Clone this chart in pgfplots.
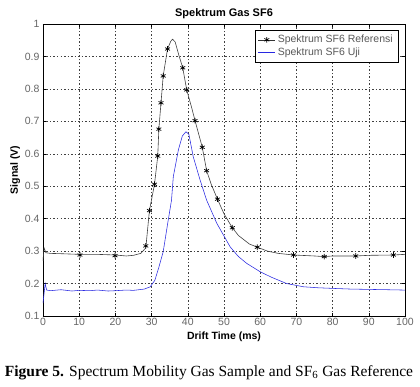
\documentclass[border=0pt]{standalone}
\usepackage{pgfplots}
\pgfplotsset{compat=1.18}
\usepackage{fontspec}
\setmainfont{Liberation Sans}
\newfontfamily\capfont{Liberation Serif}
\definecolor{uji}{RGB}{40,40,225}
\begin{document}
\begin{tikzpicture}[x=1pt,y=1pt]
\path[use as bounding box] (-43,-71) rectangle (377,316);
\begin{axis}[
  at={(0,0)}, anchor=south west,
  scale only axis, width=362pt, height=292pt,
  xmin=0, xmax=100, ymin=0.1, ymax=1,
  xtick={0,10,...,100},
  ytick={0.1,0.2,0.3,0.4,0.5,0.6,0.7,0.8,0.9,1},
  yticklabels={0.1,0.2,0.3,0.4,0.5,0.6,0.7,0.8,0.9,1},
  tick align=inside,
  major tick length=3pt,
  tick style={black, thin},
  grid=major,
  major grid style={black!75, dash pattern=on 1.5pt off 2pt, line width=0.5pt},
  axis line style={black, line width=0.7pt},
  tick label style={font=\fontsize{10.5}{12}\selectfont, text=black!60},
  xticklabel style={yshift=1pt},
  /pgf/number format/assume math mode=true,
  title={\bfseries Spektrum Gas SF6},
  title style={font=\fontsize{11}{13}\selectfont, yshift=-4pt},
  xlabel={\bfseries Drift Time (ms)},
  ylabel={\bfseries Signal (V)},
  label style={font=\fontsize{10.5}{12}\selectfont},
  xlabel style={yshift=1pt},
  ylabel style={yshift=-2pt},
  legend style={at={(rel axis cs:1,1)}, anchor=north east, xshift=-7pt, yshift=-6pt,
    font=\fontsize{10.5}{13.5}\selectfont, draw=black, line width=0.5pt, inner sep=3pt,
    cells={anchor=west}, text=black!65},
  legend cell align=left,
]
\addlegendimage{black!80, line width=0.6pt, mark=asterisk, mark size=2.8pt, mark options={black, line width=0.7pt}}
\addlegendentry{Spektrum SF6 Referensi}
\addlegendimage{uji, line width=0.9pt}
\addlegendentry{Spektrum SF6 Uji}
% reference curve
\addplot[black!75, line width=0.6pt, forget plot] coordinates {
(0,0.27) (0.3,0.31) (0.8,0.295) (2,0.293) (5,0.292) (10,0.29) (15,0.29) (20,0.288) (23,0.285) (25,0.287) (27,0.293)
(28.4,0.31) (29.4,0.425) (30.8,0.506) (31.7,0.593) (32.0,0.676) (32.6,0.757) (33.2,0.84) (34.4,0.923) (35.3,0.947) (35.8,0.953)
(36.5,0.945) (37.5,0.905) (38.6,0.865) (39.7,0.797) (41,0.745) (42.0,0.702) (44.0,0.62) (45.2,0.548) (46.5,0.505) (48.2,0.46)
(50,0.415) (52.3,0.372) (54,0.348) (55.5,0.335) (57,0.322) (59.2,0.312) (62,0.30) (65,0.293) (69.2,0.288) (75,0.285) (77.7,0.283)
(80,0.285) (86.4,0.285) (90,0.287) (96.8,0.288) (100,0.29)
};
\addplot[only marks, mark=asterisk, mark size=2.8pt, mark options={black, line width=0.7pt}, forget plot] coordinates {
(10.2,0.288) (19.9,0.286) (28.4,0.316) (29.4,0.425) (30.8,0.506) (31.7,0.593) (32.0,0.676) (32.6,0.757) (33.2,0.84) (34.4,0.923)
(38.6,0.865) (39.7,0.797) (42.0,0.702) (44.0,0.62) (45.2,0.548) (48.2,0.46) (52.3,0.372) (59.2,0.312) (69.2,0.288) (77.7,0.283) (86.4,0.285) (96.8,0.288)
};
% test curve
\addplot[uji, line width=0.55pt, forget plot] coordinates {
(0,0.14) (0.3,0.17) (0.6,0.2) (1.0,0.18) (2,0.178) (5,0.181) (8,0.177) (10,0.179) (13,0.178) (15,0.18) (18,0.177) (20,0.178) (23,0.18) (25,0.179) (28,0.183)
(29.6,0.19) (30.9,0.21) (32,0.25) (33.2,0.298) (34.6,0.396) (35.5,0.457) (36.0,0.53) (37.4,0.612) (38.5,0.655) (39.5,0.668)
(40.3,0.66) (41.5,0.591) (43.4,0.519) (45.2,0.457) (48.0,0.386) (51.7,0.313) (54,0.283) (56.3,0.262) (59.9,0.237)
(63,0.22) (67.3,0.20) (72,0.19) (76,0.187) (80.2,0.185) (85,0.183) (90,0.182) (95,0.181) (99.4,0.18) (100,0.18)
};
\end{axis}
\node[font=\capfont\fontsize{15.5}{17}\selectfont, anchor=center] at (166,-57)
  {\textbf{Figure 5.} Spectrum Mobility Gas Sample and SF\textsubscript{6} Gas Reference};
\end{tikzpicture}
\end{document}
